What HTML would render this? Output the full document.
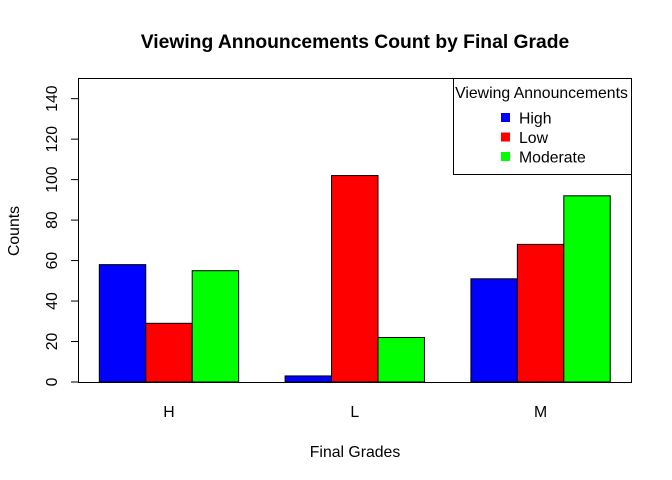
<!DOCTYPE html>
<html><head><meta charset="utf-8"><style>
body{margin:0;background:#fff;}
svg{display:block;font-family:"Liberation Sans",Arial,sans-serif;}
</style></head><body>
<svg id="chart" width="672" height="480" viewBox="0 0 672 480">
<text x="355" y="48" text-anchor="middle" font-size="19.3" font-weight="bold">Viewing Announcements Count by Final Grade</text>
<g id="bars"></g>
<rect x="78.5" y="78.5" width="553" height="304" fill="none" stroke="#000" stroke-width="1"/>
<g id="yaxis"></g>
<g id="xlabels"></g>
<text x="355" y="457" text-anchor="middle" font-size="15.8">Final Grades</text>
<text transform="translate(19,231) rotate(-90)" text-anchor="middle" font-size="15.8">Counts</text>
<g id="legend">
<rect x="453.5" y="78.5" width="178" height="96" fill="#fff" stroke="#000"/>
<text x="541.5" y="98" text-anchor="middle" font-size="15.8">Viewing Announcements</text>
</g>
</svg>
<script>
const categories = ["H", "L", "M"];
const seriesNames = ["High", "Low", "Moderate"];
const seriesColors = ["#0000ff", "#ff0000", "#00ff00"];
const highValues = [58, 3, 51];
const lowValues = [29, 102, 68];
const moderateValues = [55, 22, 92];
const yTicks = [0, 20, 40, 60, 80, 100, 120, 140];

const NS = "http://www.w3.org/2000/svg";
function mk(tag, attrs, parent) { const e = document.createElementNS(NS, tag); for (const k in attrs) e.setAttribute(k, attrs[k]); parent.appendChild(e); return e; }
const y0 = 382, yScale = (v) => y0 - v * 2.0238;
const unit = 46.45, xStart = 99.3;
const xScale = (u) => xStart + (u - 1) * unit;
const series = [highValues, lowValues, moderateValues];
const bars = document.getElementById("bars");
categories.forEach((c, i) => {
  series.forEach((vals, s) => {
    const u = 1 + i * 4 + s;
    const x = xScale(u), y = yScale(vals[i]);
    const r = mk("rect", { x: x, y: y, width: unit, height: y0 - y, fill: seriesColors[s], stroke: "#000", "stroke-width": 1 }, bars);
    
    
  });
  const t = mk("text", { x: xScale(1 + i * 4) + unit * 1.5, y: 417, "text-anchor": "middle", "font-size": 15.8 }, document.getElementById("xlabels"));
  t.textContent = c;
  
  
});
const ya = document.getElementById("yaxis");
const axl = mk("line", { x1: 78.5, x2: 78.5, y1: yScale(0), y2: yScale(yTicks[yTicks.length - 1]), stroke: "#000" }, ya);


yTicks.forEach(v => {
  const y = yScale(v);
  const tk = mk("line", { x1: 71, x2: 78.5, y1: y, y2: y, stroke: "#000" }, ya);
  
  
  const t = mk("text", { transform: "translate(57," + y + ") rotate(-90)", "text-anchor": "middle", "font-size": 15.8 }, ya);
  t.textContent = v;
  
  
});
const lg = document.getElementById("legend");
seriesNames.forEach((n, s) => {
  const y = 118 + s * 19.5;
  const sq = mk("rect", { x: 501, y: y - 5, width: 9, height: 9, fill: seriesColors[s] }, lg);
  
  
  const t = mk("text", { x: 519, y: y + 5.5, "font-size": 15.8 }, lg);
  t.textContent = n;
  
  
});
</script>
</body></html>
